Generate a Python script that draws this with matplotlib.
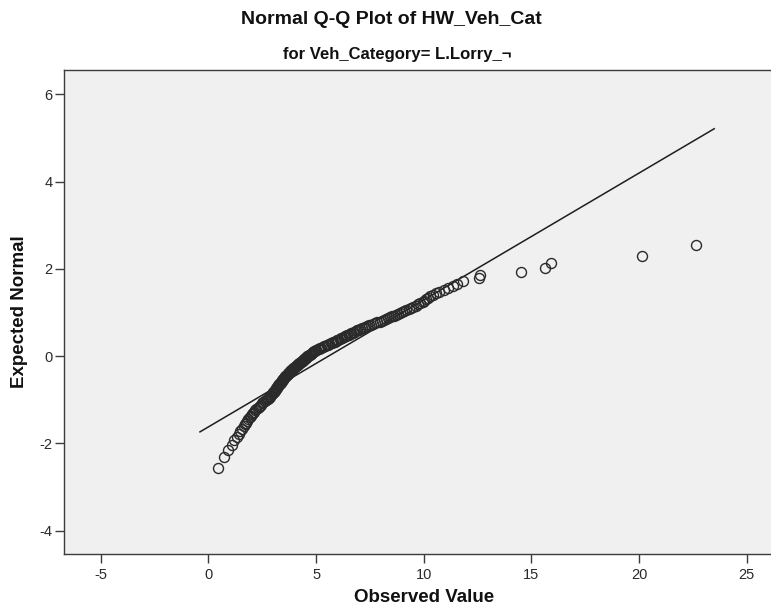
import matplotlib
matplotlib.use("Agg")
import matplotlib.pyplot as plt
import numpy as np
from statistics import NormalDist

observed = [
    0.46, 0.72, 0.90, 1.08, 1.20, 1.31, 1.40, 1.48, 1.57, 1.65,
    1.70, 1.76, 1.81, 1.86, 1.92, 1.97, 2.02, 2.08, 2.13, 2.18,
    2.23, 2.29, 2.34, 2.40, 2.45, 2.50, 2.56, 2.61, 2.67, 2.72,
    2.76, 2.80, 2.84, 2.88, 2.92, 2.95, 2.98, 3.02, 3.05, 3.08,
    3.10, 3.13, 3.15, 3.18, 3.20, 3.23, 3.25, 3.28, 3.30, 3.33,
    3.36, 3.38, 3.41, 3.43, 3.46, 3.48, 3.51, 3.53, 3.56, 3.58,
    3.61, 3.64, 3.67, 3.69, 3.72, 3.75, 3.78, 3.81, 3.83, 3.86,
    3.89, 3.92, 3.95, 3.99, 4.02, 4.05, 4.08, 4.11, 4.15, 4.18,
    4.21, 4.25, 4.28, 4.32, 4.35, 4.38, 4.41, 4.44, 4.47, 4.50,
    4.53, 4.56, 4.60,
    4.64, 4.67, 4.71, 4.75,
    4.78, 4.81, 4.84, 4.87, 4.90,
    4.95, 5.01, 5.07, 5.12, 5.18,
    5.24, 5.30, 5.37, 5.43, 5.49,
    5.55, 5.61, 5.68, 5.74, 5.80,
    5.86, 5.92, 5.98, 6.04, 6.10,
    6.16, 6.22, 6.28, 6.34, 6.40,
    6.46, 6.52, 6.58, 6.64, 6.70,
    6.77, 6.84, 6.91, 6.98, 7.05,
    7.13, 7.21, 7.29, 7.37, 7.45,
    7.55, 7.65, 7.75, 7.85, 7.95,
    8.05, 8.15, 8.25, 8.35, 8.45,
    8.54, 8.63, 8.72, 8.81, 8.90,
    9.00, 9.10, 9.20, 9.30, 9.40,
    9.51, 9.62, 9.73, 9.84, 9.95,
    10.02, 10.10, 10.20, 10.30, 10.42, 10.55, 10.72, 10.92, 11.15, 11.35,
    11.53, 11.84, 12.55, 12.62, 14.52, 15.62, 15.90, 20.15, 22.65,
]
line_x_extent = [-0.39, 23.49]
x_ticks = [-5, 0, 5, 10, 15, 20, 25]
y_ticks = [-4, -2, 0, 2, 4, 6]
title = "Normal Q-Q Plot of HW_Veh_Cat"
subtitle = "for Veh_Category= L.Lorry_\u00ac"
x_label = "Observed Value"
y_label = "Expected Normal"

# ---- expected normal scores (van der Waerden ranks) ----
obs = np.sort(np.array(observed))
n = len(obs)
nd = NormalDist()
expected = np.array([nd.inv_cdf(i / (n + 1)) for i in range(1, n + 1)])
mu = obs.mean()
sd = obs.std(ddof=1)
lx = np.array(line_x_extent)
ly = (lx - mu) / sd

plt.rcParams['font.family'] = ['Liberation Sans', 'DejaVu Sans']

W, H = 771, 613
fig = plt.figure(figsize=(W / 100, H / 100), dpi=100)
fig.patch.set_facecolor('white')

left_px, right_px, top_px, bottom_px = 64.3, 784, 70, 554
ax = fig.add_axes([left_px / W, 1 - bottom_px / H,
                   (right_px - left_px) / W, (bottom_px - top_px) / H])
ax.set_facecolor('#f0f0f0')
ax.set_xlim(-6.69, 26.73)
ax.set_ylim(-4.534, 6.557)

ax.plot(lx, ly, color='#1e1e1e', lw=1.1, zorder=2)
ax.plot(obs, expected, linestyle='none', marker='o', markersize=7.2,
        markerfacecolor='none', markeredgecolor='#2a2a2a',
        markeredgewidth=1.0, zorder=3)

for s in ax.spines.values():
    s.set_color('#3c3c3c')
    s.set_linewidth(1.0)

ax.set_xticks(x_ticks)
ax.set_yticks(y_ticks)
ax.set_xticklabels([str(v) for v in x_ticks])
ax.set_yticklabels([str(v) for v in y_ticks])
ax.tick_params(axis='both', direction='out', length=6.5, width=1.0,
               color='#3c3c3c', labelsize=10.5, labelcolor='#2a2a2a', pad=2)
ax.tick_params(axis='x', pad=3.5)

fig.text(391 / W, 1 - 20 / H, title, ha='center', va='center',
         fontsize=14, fontweight='bold', color='#111111')
fig.text(397 / W, 1 - 54 / H, subtitle, ha='center', va='center',
         fontsize=12, fontweight='bold', color='#111111')
fig.text(424 / W, 1 - 598 / H, x_label, ha='center', va='center',
         fontsize=13.5, fontweight='bold', color='#111111')
fig.text(20 / W, 1 - 312 / H, y_label, ha='center', va='center',
         rotation=90, fontsize=13.5, fontweight='bold', color='#111111')

fig.savefig('out.png', dpi=100, facecolor='white')
